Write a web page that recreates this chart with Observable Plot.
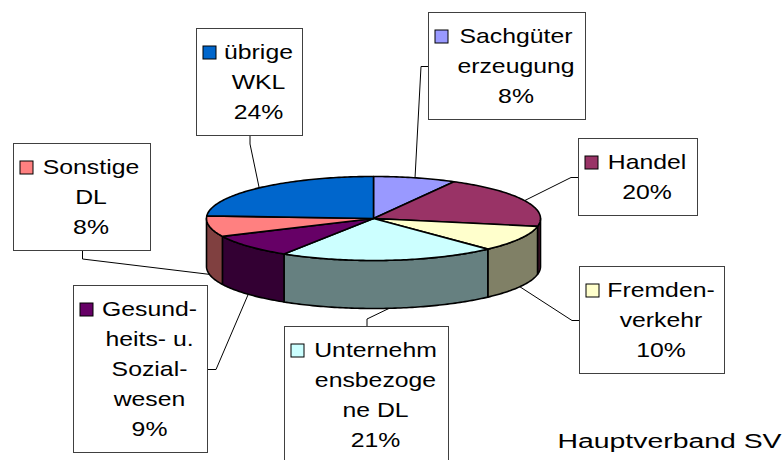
<!DOCTYPE html>
<html><head><meta charset="utf-8">
<script src="https://cdn.jsdelivr.net/npm/d3@7"></script>
<script src="https://cdn.jsdelivr.net/npm/@observablehq/plot@0.6"></script>
<style>body{margin:0;background:#fff}</style>
</head><body><div id="chart"></div>
<script>
// ---- data ----
const categories = ["Sachgütererzeugung","Handel","Fremdenverkehr","Unternehmensbezogene DL","Gesundheits- u. Sozialwesen","Sonstige DL","übrige WKL"];
const labelLines = [["Sachgüter","erzeugung"],["Handel"],["Fremden-","verkehr"],["Unternehm","ensbezoge","ne DL"],["Gesund-","heits- u.","Sozial-","wesen"],["Sonstige","DL"],["übrige","WKL"]];
const shares = [8,20,10,21,9,8,24];
const topColors = ["#9999FF","#993366","#FFFFCC","#CCFFFF","#660066","#FF8080","#0066CC"];
const sideColors = ["#4C4C80","#4C1933","#808066","#668080","#330033","#804040","#003366"];
const sourceText = "Hauptverband SV";

// ---- layout ----
const W = 782, H = 460;
const pie = {cx: 373, cy: 218, rx: 167, ry: 42, depth: 48};
const boxLayout = [
  {left: 428.5, right: 585.5, top: 12.5, side: "left"},
  {left: 578.5, right: 697.5, top: 138.5, side: "left"},
  {left: 579.5, right: 724.5, top: 266.5, side: "left"},
  {left: 284.5, right: 448.5, top: 326.5, side: "top"},
  {left: 73.5, right: 207.5, top: 285.5, side: "right"},
  {left: 13.5, right: 150.5, top: 143.5, side: "bottom"},
  {left: 196.5, right: 302.5, top: 28.5, side: "bottom"}
];
const lineGap = 30, firstLine = 24, boxPad = 17, stub = 8;
const fontSize = 20, textScale = 1.24, sourceScale = 1.42;

// ---- geometry from data ----
const total = d3.sum(shares);
let cum = 0;
const slices = shares.map((v, i) => {
  const a0 = 2 * Math.PI * cum / total; cum += v;
  const a1 = 2 * Math.PI * cum / total;
  return {i, a0, a1, mid: (a0 + a1) / 2};
});
const ept = (a, dy = 0) => ({x: pie.cx + pie.rx * Math.sin(a), y: pie.cy - pie.ry * Math.cos(a) + dy});
const arc = (a0, a1, dy = 0) => {
  const n = Math.max(2, Math.ceil((a1 - a0) * 180 / Math.PI));
  return d3.range(n + 1).map(k => ept(a0 + (a1 - a0) * k / n, dy));
};

const sidePts = [];
slices.forEach(s => {
  const s0 = Math.max(s.a0, Math.PI / 2), s1 = Math.min(s.a1, 3 * Math.PI / 2);
  if (s1 <= s0) return;
  const pts = [...arc(s0, s1), ...arc(s0, s1, pie.depth).reverse()];
  pts.push(pts[0]);
  pts.forEach(p => sidePts.push({...p, id: "side" + s.i, color: sideColors[s.i]}));
});
const topPts = [];
slices.forEach(s => {
  const pts = [{x: pie.cx, y: pie.cy}, ...arc(s.a0, s.a1), {x: pie.cx, y: pie.cy}];
  pts.forEach(p => topPts.push({...p, id: "top" + s.i, color: topColors[s.i]}));
});

const boxes = [], keys = [], textRows = [], leaderPts = [];
slices.forEach(s => {
  const b = boxLayout[s.i];
  const lines = [...labelLines[s.i], shares[s.i] + "%"];
  const bottom = b.top + boxPad + lineGap * lines.length;
  boxes.push({x1: b.left, x2: b.right, y1: b.top, y2: bottom});
  keys.push({x1: b.left + 6.5, x2: b.left + 19.5, y1: b.top + firstLine - 6.5, y2: b.top + firstLine + 6.5, color: topColors[s.i]});
  const tx = (b.left + b.right) / 2 + 8.5;
  lines.forEach((t, j) => textRows.push({x: tx, y: b.top + firstLine + lineGap * j, text: t}));
  const cxb = (b.left + b.right) / 2, cyb = (b.top + bottom) / 2;
  let a, c;
  if (b.side === "left") { a = {x: b.left, y: cyb}; c = {x: b.left - stub, y: cyb}; }
  else if (b.side === "right") { a = {x: b.right, y: cyb}; c = {x: b.right + stub, y: cyb}; }
  else if (b.side === "top") { a = {x: cxb, y: b.top}; c = {x: cxb, y: b.top - stub}; }
  else { a = {x: cxb, y: bottom}; c = {x: cxb, y: bottom + stub}; }
  const p = ept(s.mid, Math.cos(s.mid) < 0 ? pie.depth : 0);
  [a, c, p].forEach(q => leaderPts.push({...q, id: "lead" + s.i}));
});

const chart = Plot.plot({
  width: W, height: H, margin: 0,
  x: {domain: [0, W], range: [0, W], axis: null},
  y: {domain: [0, H], range: [0, H], axis: null},
  color: {type: "identity"},
  style: {background: "white", fontFamily: "'Liberation Sans', Arial, sans-serif"},
  marks: [
    Plot.line(leaderPts, {x: "x", y: "y", z: "id", stroke: "black", strokeWidth: 1, strokeLinejoin: "miter", curve: "linear"}),
    Plot.line(sidePts, {x: "x", y: "y", z: "id", fill: "color", stroke: "black", strokeWidth: 1.6, curve: "linear"}),
    Plot.line(topPts, {x: "x", y: "y", z: "id", fill: "color", stroke: "black", strokeWidth: 1.6, curve: "linear"}),
    Plot.rect(boxes, {x1: "x1", x2: "x2", y1: "y1", y2: "y2", fill: "white", stroke: "#404040", strokeWidth: 1}),
    Plot.rect(keys, {x1: "x1", x2: "x2", y1: "y1", y2: "y2", fill: "color", stroke: "black", strokeWidth: 1}),
    Plot.text(textRows, {x: "x", y: "y", text: "text", fontSize, textAnchor: "middle", lineAnchor: "middle", fill: "black"}),
    Plot.text([sourceText], {x: () => 557, y: () => 441, text: d => d, fontSize, textAnchor: "start", lineAnchor: "middle", fill: "black"})
  ]
});

// horizontally widen glyphs like the reference rendering
chart.querySelectorAll("text").forEach(t => {
  const s = t.textContent === sourceText ? sourceScale : textScale;
  const tr = t.getAttribute("transform");
  if (tr) t.setAttribute("transform", tr + ` scale(${s},1)`);
  else {
    const x = +t.getAttribute("x") || 0, y = +t.getAttribute("y") || 0;
    t.setAttribute("x", 0); t.setAttribute("y", 0);
    t.setAttribute("transform", `translate(${x},${y}) scale(${s},1)`);
  }
});
document.getElementById("chart").appendChild(chart);
</script>
</body></html>
